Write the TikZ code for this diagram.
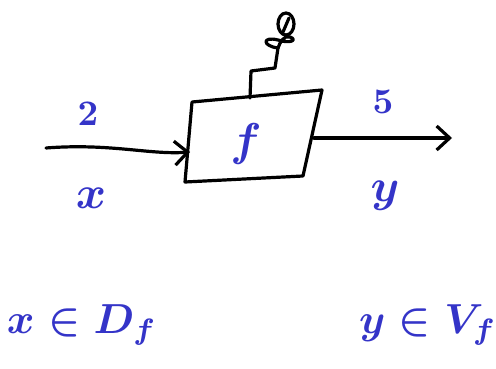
\documentclass[tikz,border=0pt]{standalone}
\usepackage{amsmath,amssymb}
\usetikzlibrary{arrows.meta,positioning,calc}
\definecolor{penblue}{RGB}{52,52,200}

\begin{document}
\begin{tikzpicture}[x=1pt,y=-1pt,
        ink/.style={line width=3.2pt, line cap=round, line join=round},
        arrow/.style={ink, -{Straight Barb[length=13pt,width=24pt,line width=3.2pt]}},
        label/.style={text=penblue, font=\boldmath, scale=3.6, inner sep=0pt},
        varlabel/.style={text=penblue, font=\boldmath, scale=4.6, inner sep=0pt},
        biglabel/.style={text=penblue, font=\boldmath, scale=4.2, inner sep=0pt},
    ]
        \useasboundingbox (0,0) rectangle (496,369);

        % Box corners
        \coordinate (tl) at (192,102);
        \coordinate (tr) at (322,90);
        \coordinate (br) at (303,176);
        \coordinate (bl) at (185,182);
        \draw[ink] (tl) -- (tr) -- (br) -- (bl) -- cycle;
        \node[varlabel] (f) at (246,144) {$f$};

        % Input and output
        \coordinate (in) at (46,148);
        \coordinate (boxin) at (190,152);
        \coordinate (boxout) at (314,138);
        \coordinate (out) at (452,138);
        \draw[arrow] (in) .. controls (110,143) and (150,155) .. (boxin);
        \draw[arrow] (boxout) -- (out);

        \node[label] (two) at (88,114) {$2$};
        \node[varlabel] (xin) at (91,198) {$x$};
        \node[label] (five) at (383,102) {$5$};
        \node[varlabel] (yout) at (385,196) {$y$};

        % Knob on top
        \coordinate (stem) at (250,98);
        \draw[ink] (stem) -- (251,71) -- (275,68) -- (278,48);
        \draw[ink] (278,48) .. controls (262,46) and (262,36) .. (278,40)
            .. controls (290,44) and (298,40) .. (290,37)
            .. controls (284,35) and (280,42) .. (278,48);
        \draw[ink] (286,24) ellipse (8 and 11);
        \draw[ink] (283,32) -- (289,18);

        % Domain and range
        \node[biglabel] (dom) at (82,325) {$x\in D_f$};
        \node[biglabel] (ran) at (428,325) {$y\in V_f$};
    \end{tikzpicture}
\end{document}
